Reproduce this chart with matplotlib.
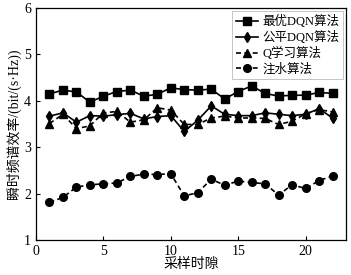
import matplotlib
matplotlib.use("Agg")
import matplotlib.pyplot as plt

x = list(range(1, 23))
best_dqn = [4.15, 4.23, 4.19, 3.97, 4.10, 4.20, 4.23, 4.10, 4.14, 4.28, 4.24,
            4.23, 4.25, 4.04, 4.20, 4.32, 4.16, 4.10, 4.12, 4.12, 4.18, 4.16]
fair_dqn = [3.67, 3.74, 3.54, 3.68, 3.67, 3.70, 3.73, 3.61, 3.66, 3.68, 3.34,
            3.58, 3.89, 3.71, 3.68, 3.68, 3.74, 3.71, 3.68, 3.71, 3.83, 3.63]
q_learn = [3.51, 3.71, 3.40, 3.46, 3.74, 3.77, 3.54, 3.59, 3.85, 3.80, 3.49,
           3.49, 3.63, 3.67, 3.63, 3.63, 3.62, 3.49, 3.56, 3.72, 3.81, 3.76]
water = [1.81, 1.92, 2.14, 2.19, 2.21, 2.23, 2.37, 2.42, 2.41, 2.43, 1.95,
         2.02, 2.31, 2.18, 2.27, 2.24, 2.21, 1.97, 2.19, 2.11, 2.28, 2.38]
labels = ["最优DQN算法", "公平DQN算法", "Q学习算法", "注水算法"]
xlabel = "采样时隙"
ylabel = "瞬时频谱效率/(bit/(s·Hz))"

plt.rcParams['font.family'] = ['Liberation Serif', 'Noto Sans CJK SC']
fig = plt.figure(figsize=(3.51, 2.75), dpi=100)
ax = fig.add_axes([36/351, 1-240/275, 310/351, 232/275])

lw = 1.2
ax.plot(x, best_dqn, '-', color='black', lw=lw, marker='s', ms=5.5, label=labels[0])
ax.plot(x, fair_dqn, '-', color='black', lw=lw, marker='d', ms=5.5, label=labels[1])
ax.plot(x, q_learn, '--', color='black', lw=lw, marker='^', ms=5.5, label=labels[2], dashes=(3, 2))
ax.plot(x, water, '--', color='black', lw=lw, marker='o', ms=5.5, label=labels[3], dashes=(3, 2))

ax.set_xlim(0, 23)
ax.set_ylim(1, 6)
ax.set_xticks([0, 5, 10, 15, 20])
ax.set_yticks([1, 2, 3, 4, 5, 6])
ax.tick_params(direction='in', labelsize=10, length=3, width=0.8)
for s in ax.spines.values():
    s.set_linewidth(0.9)

ax.set_xlabel(xlabel, fontsize=10, labelpad=0)
ax.set_ylabel(ylabel, fontsize=10, labelpad=2)

leg = ax.legend(loc='upper right', fontsize=9, frameon=True, fancybox=False,
                edgecolor='#aaaaaa', handlelength=1.8, handletextpad=0.3,
                labelspacing=0.25, borderpad=0.3, borderaxespad=0.25)
leg.get_frame().set_linewidth(0.6)

fig.savefig("out.png", dpi=100)
